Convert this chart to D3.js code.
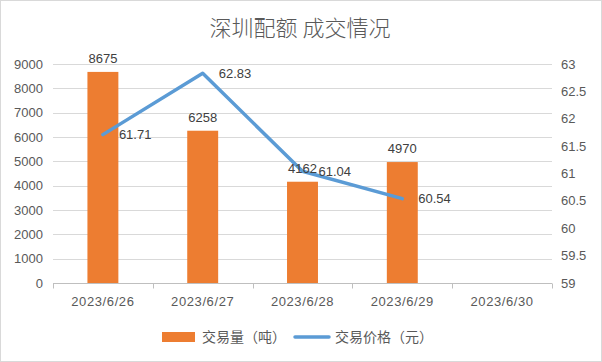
<!DOCTYPE html>
<html>
<head>
<meta charset="utf-8">
<script src="https://cdn.jsdelivr.net/npm/d3@7"></script>
<style>
  body { margin: 0; background: #fff; }
  svg text { font-family: "Liberation Sans", Arial, sans-serif; }
  .cjk { font-family: "Noto Sans CJK SC", sans-serif !important; }
</style>
</head>
<body>
<svg id="chart" width="602" height="362"></svg>
<script>
// data
let dates = ["2023/6/26", "2023/6/27", "2023/6/28", "2023/6/29", "2023/6/30"];
let volume = [8675, 6258, 4162, 4970, null];
let price = [61.71, 62.83, 61.04, 60.54, null];
let leftTicks = [0, 1000, 2000, 3000, 4000, 5000, 6000, 7000, 8000, 9000];
let rightTicks = [59, 59.5, 60, 60.5, 61, 61.5, 62, 62.5, 63];

let svg = d3.select("#chart");
let plotL = 53, plotR = 552, plotT = 64, plotB = 283;

// outer border
svg.append("rect").attr("x", 0.5).attr("y", 0.5).attr("width", 601).attr("height", 361)
  .attr("fill", "#fff").attr("stroke", "#d9d9d9");

svg.append("text").attr("class", "cjk")
  .attr("x", 300).attr("y", 36).attr("text-anchor", "middle")
  .attr("font-size", 22).attr("font-weight", 300).attr("fill", "#595959")
  .text("深圳配额 成交情况");

let x = d3.scaleBand().domain(dates).range([plotL, plotR]).paddingInner(0.69).paddingOuter(0.345);
let xBand = d3.scaleBand().domain(dates).range([plotL, plotR]);
let yL = d3.scaleLinear().domain([0, 9000]).range([plotB, plotT]);
let yR = d3.scaleLinear().domain([59, 63]).range([plotB, plotT]);

// gridlines
svg.append("g").selectAll("line").data(leftTicks.slice(1)).enter().append("line")
  .attr("x1", plotL).attr("x2", plotR)
  .attr("y1", d => Math.round(yL(d)) + 0.5).attr("y2", d => Math.round(yL(d)) + 0.5)
  .attr("stroke", "#d9d9d9");

// left axis labels
svg.append("g").selectAll("text").data(leftTicks).enter().append("text")
  .attr("x", 43).attr("y", d => yL(d)).attr("dy", "0.35em")
  .attr("text-anchor", "end").attr("font-size", 13).attr("fill", "#595959")
  .text(d => d);

// right axis labels
svg.append("g").selectAll("text").data(rightTicks).enter().append("text")
  .attr("x", 561).attr("y", d => yR(d)).attr("dy", "0.35em")
  .attr("text-anchor", "start").attr("font-size", 13).attr("fill", "#595959")
  .text(d => d);

// bars
let bars = dates.map((d, i) => ({ d: d, v: volume[i] })).filter(b => b.v != null);
svg.append("g").selectAll("rect").data(bars).enter().append("rect")
  .attr("x", b => x(b.d)).attr("width", x.bandwidth())
  .attr("y", b => yL(b.v)).attr("height", b => plotB - yL(b.v))
  .attr("fill", "#ed7d31");

// x axis line + ticks
let axis = svg.append("g").attr("transform", "translate(0," + (plotB + 0.5) + ")");
axis.append("line").attr("x1", plotL).attr("x2", plotR).attr("stroke", "#bfbfbf");
let bounds = dates.map(d => xBand(d)).concat([plotR]);
axis.selectAll("line.t").data(bounds).enter().append("line").attr("class", "t")
  .attr("x1", d => Math.round(d) + 0.5).attr("x2", d => Math.round(d) + 0.5)
  .attr("y1", 0).attr("y2", 5).attr("stroke", "#bfbfbf");
axis.selectAll("text").data(dates).enter().append("text")
  .attr("x", d => xBand(d) + xBand.bandwidth() / 2).attr("y", 18)
  .attr("dy", "0.35em").attr("text-anchor", "middle")
  .attr("font-size", 13).attr("letter-spacing", 0.6).attr("fill", "#595959")
  .text(d => d);

// price line
let pts = dates.map((d, i) => ({ d: d, v: price[i] })).filter(p => p.v != null);
let line = d3.line().x(p => xBand(p.d) + xBand.bandwidth() / 2).y(p => yR(p.v));
svg.append("path").datum(pts).attr("d", line)
  .attr("fill", "none").attr("stroke", "#5b9bd5").attr("stroke-width", 3.5)
  .attr("stroke-linejoin", "round").attr("stroke-linecap", "round");

// bar labels
svg.append("g").selectAll("text").data(bars).enter().append("text")
  .attr("x", b => x(b.d) + x.bandwidth() / 2).attr("y", b => yL(b.v) - 9)
  .attr("text-anchor", "middle").attr("font-size", 13).attr("fill", "#404040")
  .text(b => b.v);

// price labels
svg.append("g").selectAll("text").data(pts).enter().append("text")
  .attr("x", p => xBand(p.d) + xBand.bandwidth() / 2 + 16).attr("y", p => yR(p.v))
  .attr("dy", "0.35em").attr("font-size", 13).attr("fill", "#404040")
  .text(p => p.v.toFixed(2));

// legend
let lg = svg.append("g");
lg.append("rect").attr("x", 162).attr("y", 332).attr("width", 33).attr("height", 10).attr("fill", "#ed7d31");
lg.append("text").attr("class", "cjk").attr("x", 202).attr("y", 337).attr("dy", "0.35em")
  .attr("font-size", 14).attr("fill", "#595959").text("交易量（吨）");
lg.append("line").attr("x1", 295).attr("x2", 329).attr("y1", 337).attr("y2", 337)
  .attr("stroke", "#5b9bd5").attr("stroke-width", 3.5).attr("stroke-linecap", "round");
lg.append("text").attr("class", "cjk").attr("x", 335).attr("y", 337).attr("dy", "0.35em")
  .attr("font-size", 14).attr("fill", "#595959").text("交易价格（元）");
</script>
</body>
</html>
